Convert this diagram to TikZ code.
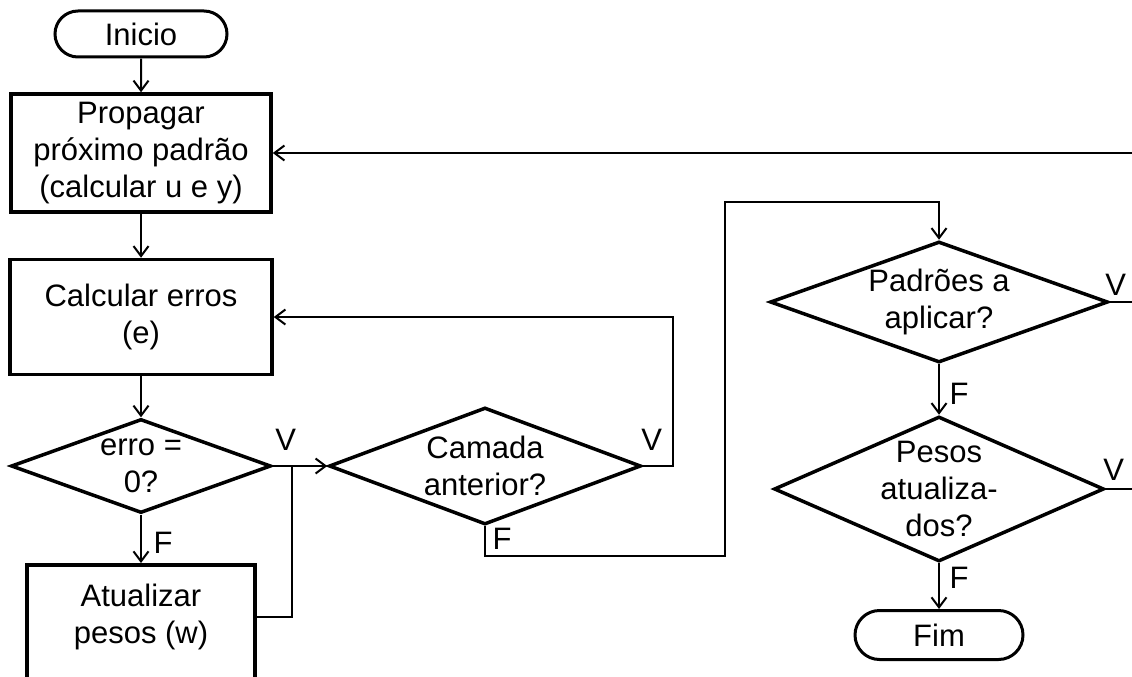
\documentclass[tikz,border=0pt]{standalone}
\usepackage{fontspec}
\setmainfont{Liberation Sans}
\usetikzlibrary{shapes.geometric,shapes.misc,arrows.meta}

\begin{document}
\begin{tikzpicture}[x=1pt,y=-1pt,
    font=\fontsize{31}{37}\selectfont,
    term/.style={draw,rounded rectangle,line width=3pt,minimum width=172pt,minimum height=46pt,inner sep=0pt},
    proc/.style={draw,rectangle,line width=3.5pt,align=center,inner sep=0pt},
    decis/.style={draw,diamond,line width=3.5pt,align=center,inner sep=-8pt},
    lbl/.style={inner sep=0pt},
    line/.style={line width=2pt},
    arr/.style={line width=2pt,-{Straight Barb[length=10pt,width=15pt]}}]
    \useasboundingbox (0,0) rectangle (1132,677);
    \clip (0,0) rectangle (1132,677);

    % left column
    \node[term] (inicio) at (141,34) {Inicio};
    \node[proc,minimum width=260pt,minimum height=118pt] (prop) at (141,153) {Propagar\\próximo padrão\\(calcular u e y)};
    \node[proc,minimum width=262pt,minimum height=115pt] (calc) at (141,317) {Calcular erros\\(e)};
    \node[decis,shape aspect=2.77,minimum width=260pt,minimum height=94pt] (erro) at (141,466) {erro =\\0?};
    \node[proc,minimum width=228pt,minimum height=130pt,anchor=north] (atual) at (141,563) {};
    \node[align=center] (atualtxt) at (141,617) {Atualizar\\pesos (w)};

    % middle and right
    \node[decis,shape aspect=2.67,minimum width=312pt,minimum height=117pt] (camada) at (485,466) {Camada\\anterior?};
    \node[decis,shape aspect=2.8,minimum width=338pt,minimum height=121pt] (padr) at (939,302) {Padrões a\\aplicar?};
    \node[decis,shape aspect=2.28,minimum width=330pt,minimum height=145pt] (pesos) at (939,489) {Pesos\\atualiza-\\dos?};
    \node[term,minimum width=168pt,minimum height=49pt] (fim) at (939,635) {Fim};

    \coordinate (jn) at (292,466);
    \coordinate (ret) at (1150,153);

    \draw[arr] (inicio) -- (prop);
    \draw[arr] (prop) -- (calc);
    \draw[arr] (calc) -- (erro);
    \draw[arr] (erro) -- (atual);
    \draw[arr] (erro.east) -- (camada.west);
    \draw[line] (atualtxt -| atual.east) -| (jn);
    \draw[arr] (camada.east) -- ++(30,0) |- (calc.east);
    \draw[arr] (camada.south) -- ++(0,30) -| (725,202) -| (padr.north);
    \draw[arr] (padr) -- (pesos);
    \draw[arr] (pesos) -- (fim);
    \draw[line] (padr.east) -- (padr.east -| ret);
    \draw[arr] (pesos.east) -| (ret) -- (prop.east);

    % V / F labels
    \node[lbl] (verro) at ([shift={(13,-26)}]erro.east) {V};
    \node[lbl] (ferro) at ([shift={(22,28)}]erro.south) {F};
    \node[lbl] (vcam) at ([shift={(9,-26)}]camada.east) {V};
    \node[lbl] (fcam) at ([shift={(17,13)}]camada.south) {F};
    \node[lbl] (vpadr) at ([shift={(6,-17)}]padr.east) {V};
    \node[lbl] (fpadr) at ([shift={(20,30)}]padr.south) {F};
    \node[lbl] (vpesos) at ([shift={(8,-19)}]pesos.east) {V};
    \node[lbl] (fpesos) at ([shift={(20,15)}]pesos.south) {F};
\end{tikzpicture}
\end{document}
